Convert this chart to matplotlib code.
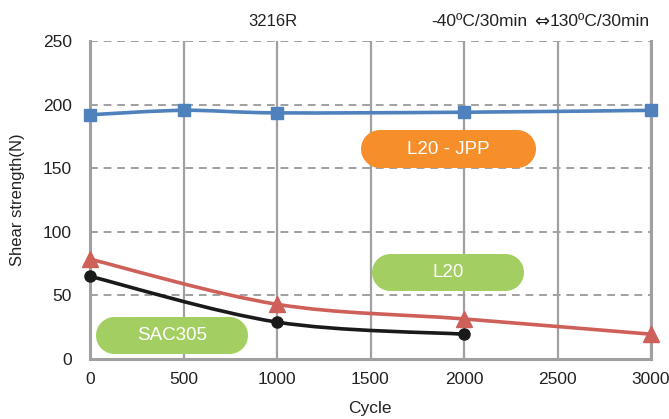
import numpy as np
import matplotlib.pyplot as plt
from matplotlib.path import Path
from matplotlib.patches import PathPatch, Polygon

plt.rcParams['font.family'] = ['Liberation Sans', 'DejaVu Sans']

cycles = [0, 500, 1000, 2000, 3000]
l20_jpp = [192, 195.5, 193.5, 194, 195.5]
l20_cycles = [0, 1000, 2000, 3000]
l20 = [78.5, 43, 31.5, 19.5]
sac_cycles = [0, 1000, 2000]
sac305 = [65, 29, 19.5]

xticks = [0, 500, 1000, 1500, 2000, 2500, 3000]
yticks = [0, 50, 100, 150, 200, 250]

W, H = 669, 419
txt = '#222222'


def smooth_path(xs, ys):
  # catmull-rom style smoothing like the excel "smoothed line"
  p = np.column_stack([xs, ys]).astype(float)
  n = len(p)
  verts = [p[0]]
  codes = [Path.MOVETO]
  for i in range(n - 1):
    p0 = p[i - 1] if i > 0 else p[i]
    p1 = p[i]
    p2 = p[i + 1]
    p3 = p[i + 2] if i + 2 < n else p[i + 1]
    c1 = p1 + (p2 - p0) / 6.0
    c2 = p2 - (p3 - p1) / 6.0
    verts += [c1, c2, p2]
    codes += [Path.CURVE4] * 3
  return Path(verts, codes)


fig = plt.figure(figsize=(W / 100, H / 100), dpi=100)
ax = fig.add_axes([90 / W, 60 / H, 561 / W, 318 / H])
ax.set_xlim(0, 3000)
ax.set_ylim(0, 250)

grey = '#a0a0a0'
for x in xticks[1:]:
  ax.axvline(x, color=grey, lw=1.6, zorder=1)
for y in yticks[1:]:
  ax.axhline(y, color=grey, lw=1.4, ls=(0, (4, 3)), zorder=1)

ax.spines['top'].set_visible(False)
for s in ['left', 'bottom', 'right']:
  ax.spines[s].set_color(grey)
  ax.spines[s].set_linewidth(2.2)

series = [
  (cycles, l20_jpp, '#4f81bd', 's', 9),
  (l20_cycles, l20, '#cf5f59', '^', 11),
  (sac_cycles, sac305, '#1a1a1a', 'o', 8),
]
for xs, ys, c, m, ms in series:
  ax.add_patch(PathPatch(smooth_path(xs, ys), fill=False, ec=c, lw=2.6,
                         transform=ax.transData, zorder=3, clip_on=False))
  ax.plot(xs, ys, ls='none', marker=m, ms=ms, color=c, zorder=4, clip_on=False)

ax.set_xticks(xticks)
ax.set_yticks(yticks)
ax.tick_params(length=0, labelsize=12.5, colors=txt)
ax.tick_params(axis='y', pad=13)
ax.tick_params(axis='x', pad=9)

fig.text(18 / W, 1 - 200 / H, 'Shear strength(N)', rotation=90,
         ha='center', va='center', fontsize=12, color=txt)
fig.text(370 / W, 1 - 408 / H, 'Cycle', ha='center', va='center',
         fontsize=12.5, color=txt)
fig.text(273 / W, 1 - 22 / H, '3216R', ha='center', va='center',
         fontsize=12, color=txt)

# header on the right: text, arrow, text placed one after another
renderer = fig.canvas.get_renderer()
t_right = fig.text(650 / W, 1 - 22 / H, '130ºC/30min', ha='right',
                   va='center', fontsize=12.5, color=txt)
xr = t_right.get_window_extent(renderer).x0
t_arrow = fig.text((xr - 1) / W, 1 - 22 / H, '\u21d4', ha='right', va='center',
                   fontsize=13, color=txt, family='DejaVu Sans')
xa = t_arrow.get_window_extent(renderer).x0
fig.text((xa - 6) / W, 1 - 22 / H, '-40ºC/30min', ha='right', va='center',
         fontsize=12.5, color=txt)


def pill(x0, y0, x1, y1, label, color):
  # rounded-end box, built in pixels then turned into figure fractions
  r = (y1 - y0) / 2
  cy = (y0 + y1) / 2
  t = np.linspace(-np.pi / 2, np.pi / 2, 30)
  right = np.column_stack([x1 - r + r * np.cos(t), cy + r * np.sin(t)])
  left = np.column_stack([x0 + r - r * np.cos(t), cy - r * np.sin(t)])
  pts = np.vstack([right, left])
  pts = np.column_stack([pts[:, 0] / W, 1 - pts[:, 1] / H])
  fig.patches.append(Polygon(pts, closed=True, transform=fig.transFigure,
                             fc=color, ec='none', zorder=5))
  fig.text((x0 + x1) / 2 / W, 1 - cy / H, label, ha='center', va='center',
           color='white', fontsize=13.5, zorder=6)


pill(361, 130, 536, 168, 'L20 - JPP', '#f68e2a')
pill(372, 254, 524, 291, 'L20', '#a3cf62')
pill(96, 317, 248, 354, 'SAC305', '#a3cf62')

plt.savefig('out.png', dpi=100)
